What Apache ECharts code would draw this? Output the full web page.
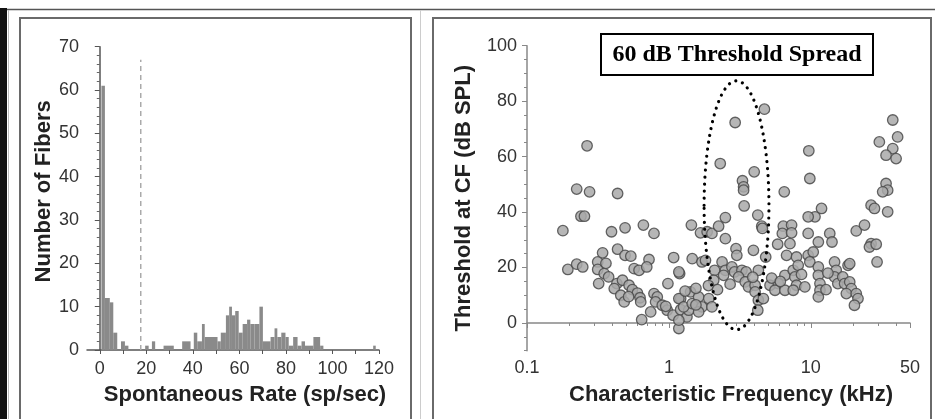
<!DOCTYPE html>
<html><head><meta charset="utf-8">
<script src="https://cdn.jsdelivr.net/npm/echarts@6/dist/echarts.min.js"></script>
<style>html,body{margin:0;padding:0;background:#fff}#c{width:935px;height:419px}</style>
</head><body><div id="c"></div>
<script>
// ---------- Histogram: spontaneous rate ----------
const binStart = [0.7,2.2,4.3,5.8,9.1,10.8,19.5,22.4,27.4,35.4,40.4,41.9,43.9,45.1,50.6,52,54.2,55.6,56.8,58.2,59.7,61.4,63.3,64.7,66.5,68.6,70.1,73.4,75.1,76.3,78,79.8,81.2,83.1,85,86.7,88.2,91.8,94.7,117.5];
const binEnd   = [2.2,4.3,5.8,7.5,10.8,12.3,21,23.8,31.8,39,41.9,43.9,45.1,50.6,52,54.2,55.6,56.8,58.2,59.7,61.4,63.3,64.7,66.5,68.6,70.1,73.4,75.1,76.3,78,79.8,81.2,83.1,85,86.7,88.2,91.8,94.7,96.1,118.6];
const binCount = [61,12,11,4,2,1,1,2,1,2,4,2,6,3,2,4,8,10,8,9,4,6,7,6,6,10,2,3,5,3,4,3,1,3,1,2,1,3,1,1];
const srBoundary = 17.6;          // dashed divider (sp/sec)
const srBoundaryTop = 67;         // height of divider (fibers)
const histXTicks = [0,20,40,60,80,100,120];
const histXMinor = [10,30,50,70,90,110];

// ---------- Scatter: threshold vs CF ----------
const cfKHz = [0.179,0.194,0.224,0.276,0.240,0.254,0.265,0.224,0.247,0.315,0.315,0.341,0.350,0.376,0.320,0.394,0.435,0.435,0.491,0.491,0.539,0.661,0.785,0.724,1.08,1.46,1.44,0.430,0.412,0.471,0.458,0.484,0.524,0.553,0.569,0.616,0.698,0.600,0.626,0.633,0.643,0.785,0.828,0.806,0.744,0.898,0.984,1.19,0.973,1.07,1.175,1.21,1.21,1.34,1.42,1.38,4.71,2.93,2.30,3.99,3.30,3.36,3.36,3.39,6.50,9.68,9.84,30.4,37.8,40.9,37.8,33.9,39.9,33.9,34.8,32.1,26.6,28.1,34.8,20.9,23.9,26.6,25.9,28.9,29.3,11.9,10.7,9.58,9.58,13.6,14.1,11.3,18.3,1.67,1.86,2.01,2.24,2.50,2.50,4.23,4.51,4.56,6.40,7.32,6.30,7.32,5.84,7.13,6.75,7.93,3.94,4.81,2.97,3.01,1.71,1.81,1.175,2.10,2.37,2.50,2.78,2.90,3.27,3.50,2.07,2.43,3.10,3.45,3.64,4.05,4.27,4.05,4.27,4.63,4.23,5.16,5.90,5.59,6.57,6.57,7.52,8.15,7.72,7.93,7.52,9.08,9.58,10.4,9.84,11.3,11.3,11.6,11.6,11.3,14.7,15.1,14.7,15.5,18.8,16.8,17.3,18.8,19.3,17.8,20.9,21.5,20.3,1.175,1.27,1.46,1.62,1.71,1.91,2.01,1.175,1.62,1.55,1.9,2.2,2.7,3.9,5.3,6.1,8.6,12.8,13.2,0.36,0.52,0.95,1.3,1.55];
const thresholdDb = [33.3,19.3,48.3,47.3,38.5,38.5,63.9,21.2,20.2,22.0,19.3,25.3,17.8,16.6,14.2,32.9,46.7,26.6,34.3,24.4,24.1,35.3,32.3,22.9,23.6,23.2,35.3,14.2,12.4,15.4,10.0,7.6,13.6,12.0,19.6,19.0,20.2,10.8,9.1,7.6,1.2,10.6,9.4,7.6,4.0,6.4,14.2,17.8,4.6,2.8,-2.0,8.8,4.8,2.2,11.2,4.6,77.1,72.3,57.5,54.5,51.3,49.1,47.9,42.2,47.3,62.1,52.1,65.3,73.2,67.1,62.9,60.5,59.3,50.3,47.9,47.3,42.5,41.3,40.1,33.2,35.3,28.6,27.4,28.4,22.0,41.3,38.3,38.3,32.3,32.3,29.2,29.2,20.8,32.5,32.9,32.3,34.9,38.0,30.4,38.9,34.9,34.1,34.9,35.3,32.3,32.5,28.4,28.6,24.4,23.8,26.2,23.8,26.8,24.4,22.0,22.6,18.4,19.0,22.0,19.0,20.2,18.4,19.0,18.4,15.4,17.2,16.6,14.8,13.0,13.6,19.0,11.2,8.2,8.8,4.6,13.6,14.2,11.8,11.8,17.2,19.0,20.8,16.6,13.6,11.8,13.0,24.4,25.6,22.0,20.2,17.2,14.2,11.8,9.4,22.0,19.0,16.6,14.2,21.4,16.6,14.2,14.8,12.4,10.6,10.6,8.8,6.4,8.8,5.8,7.0,9.4,5.8,8.8,5.8,1.0,4.0,12.5,13.5,12.0,14.0,16.5,16.2,15.0,17.5,12.0,18.0,21.5,9.5,6.0,11.5,6.5];
const cfLabelValues = [0.1,1,10,50];
const cfMinorTicks = [0.2,0.3,0.4,0.5,0.6,0.7,0.8,0.9,2,3,4,5,6,7,8,9,20,30,40];
const thrLabelValues = [0,20,40,60,80,100];
const thrMinorTicks = [-10,-5,0,5,10,15,20,25,30,35,40,45,50,55,60,65,70,75,80,85,90,95,100];
// annotation: ellipse bounds in data units
const spreadEllipse = {fLow:1.77, fHigh:5.07, dbLow:-2.4, dbHigh:87.3};
const spreadTitle = '60 dB Threshold Spread';

const FONT = 'Liberation Sans';
const labelStyle = {fontFamily:FONT, fontSize:18, color:'#333'};
const nameStyle = (pad) => ({fontFamily:FONT, fontSize:22, fontWeight:'bold', color:'#222', padding:pad});

const chart = echarts.init(document.getElementById('c'), null, {renderer:'canvas'});

const option = {
  animation:false,
  backgroundColor:'#fff',
  grid:[
    {left:87, top:46.7, width:292, height:303.3},
    {left:527, top:45.7, width:383, height:305}
  ],
  xAxis:[
    {type:'value', gridIndex:0, min:-5.5, max:120,
     axisLine:{lineStyle:{color:'#555', width:1.5}},
     axisTick:{customValues:histXTicks.concat(histXMinor), length:4, lineStyle:{color:'#555'}},
     axisLabel:Object.assign({customValues:histXTicks, margin:10}, labelStyle),
     splitLine:{show:false},
     name:'Spontaneous Rate (sp/sec)', nameLocation:'middle', nameGap:34,
     nameTextStyle:nameStyle([0,0,0,24])},
    {type:'log', gridIndex:1, min:0.1, max:50, logBase:10,
     axisLine:{lineStyle:{color:'#888', width:1.5}},
     axisTick:{customValues:cfLabelValues, length:5, lineStyle:{color:'#888'}},
     axisLabel:Object.assign({customValues:cfLabelValues, margin:8,
        formatter:v=>String(+(+v).toPrecision(3))}, labelStyle),
     splitLine:{show:false},
     name:'Characteristic Frequency (kHz)', nameLocation:'middle', nameGap:33,
     nameTextStyle:nameStyle([0,0,0,25])},
    {type:'log', gridIndex:1, min:0.1, max:50, logBase:10, position:'bottom',
     axisLine:{show:false},
     axisTick:{customValues:cfMinorTicks, length:3, lineStyle:{color:'#888'}},
     axisLabel:{show:false}, splitLine:{show:false}}
  ],
  yAxis:[
    {type:'value', gridIndex:0, min:0, max:70, interval:10,
     axisLine:{show:true, lineStyle:{color:'#555', width:1.5}},
     axisTick:{show:true, length:5, lineStyle:{color:'#555'}},
     minorTick:{show:true, splitNumber:5, length:3, lineStyle:{color:'#666'}},
     axisLabel:Object.assign({margin:8}, labelStyle),
     splitLine:{show:false},
     name:'Number of Fibers', nameLocation:'middle', nameGap:32,
     nameTextStyle:nameStyle([0,0,0,14])},
    {type:'value', gridIndex:1, min:-10, max:100, position:'left',
     axisLine:{show:true, lineStyle:{color:'#888', width:1.5}},
     axisTick:{show:true, customValues:thrLabelValues, length:5, lineStyle:{color:'#888'}},
     axisLabel:Object.assign({customValues:thrLabelValues, margin:10}, labelStyle),
     splitLine:{show:false},
     name:'Threshold at CF (dB SPL)', nameLocation:'middle', nameGap:52,
     nameTextStyle:nameStyle([0,0,0,0])},
    {type:'value', gridIndex:1, min:-10, max:100, position:'left',
     axisLine:{show:false},
     axisTick:{show:true, customValues:thrMinorTicks, length:3, lineStyle:{color:'#888'}},
     axisLabel:{show:false}, splitLine:{show:false}}
  ],
  series:[
    {type:'custom', xAxisIndex:0, yAxisIndex:0,
     data: binStart.map((s,i)=>[s, binEnd[i], binCount[i]]),
     encode:{x:[0,1], y:2},
     renderItem:(params, api)=>{
       const p0 = api.coord([api.value(0), api.value(2)]);
       const p1 = api.coord([api.value(1), 0]);
       return {type:'rect', shape:{x:p0[0], y:p0[1], width:p1[0]-p0[0], height:p1[1]-p0[1]},
               style:{fill:'#8a8a8a'}};
     }},
    {type:'line', xAxisIndex:0, yAxisIndex:0, symbol:'none', silent:true,
     data:[[srBoundary,0],[srBoundary,srBoundaryTop]],
     lineStyle:{color:'#aaa', width:1.5, type:[5,4]}},
    {type:'scatter', xAxisIndex:1, yAxisIndex:1, symbolSize:10.5,
     data: cfKHz.map((f,i)=>[f, thresholdDb[i]]),
     itemStyle:{color:'#a9a9a9', borderColor:'#4a4a4a', borderWidth:1.3, opacity:0.85}}
  ]
};
chart.setOption(option);

// frames + annotations
const tl = chart.convertToPixel({xAxisIndex:1, yAxisIndex:1}, [spreadEllipse.fLow, spreadEllipse.dbHigh]);
const br = chart.convertToPixel({xAxisIndex:1, yAxisIndex:1}, [spreadEllipse.fHigh, spreadEllipse.dbLow]);
const frameStroke = {stroke:'#6a6a6a', lineWidth:2, fill:null};
chart.setOption({graphic:[
  {type:'rect', shape:{x:0, y:8, width:7, height:420}, style:{fill:'#111'}, z:-1},
  {type:'line', shape:{x1:7, y1:9.5, x2:935, y2:9.5}, style:{stroke:'#555', lineWidth:1.5}, z:-1},
  {type:'line', shape:{x1:8.5, y1:10, x2:8.5, y2:419}, style:{stroke:'#bbb', lineWidth:1}, z:-1},
  {type:'line', shape:{x1:420.5, y1:10, x2:420.5, y2:419}, style:{stroke:'#ccc', lineWidth:1}, z:-1},
  {type:'polyline', shape:{points:[[20,425],[20,18],[411,18],[411,425]]}, style:frameStroke, z:-1},
  {type:'polyline', shape:{points:[[433,425],[433,18],[931,18],[931,425]]}, style:frameStroke, z:-1},
  {type:'rect', shape:{x:601, y:34, width:272, height:41},
   style:{fill:'#fff', stroke:'#000', lineWidth:2}, z:10},
  {type:'text', x:737, y:55, z:11,
   style:{text:spreadTitle, fontFamily:'Liberation Serif', fontWeight:'bold', fontSize:24,
          fill:'#000', align:'center', verticalAlign:'middle'}},
  {type:'ellipse', z:10,
   shape:{cx:(tl[0]+br[0])/2, cy:(tl[1]+br[1])/2, rx:(br[0]-tl[0])/2, ry:(br[1]-tl[1])/2},
   style:{fill:null, stroke:'#000', lineWidth:3.2, lineDash:[0.01,7], lineCap:'round'}}
]});
</script>
</body></html>
